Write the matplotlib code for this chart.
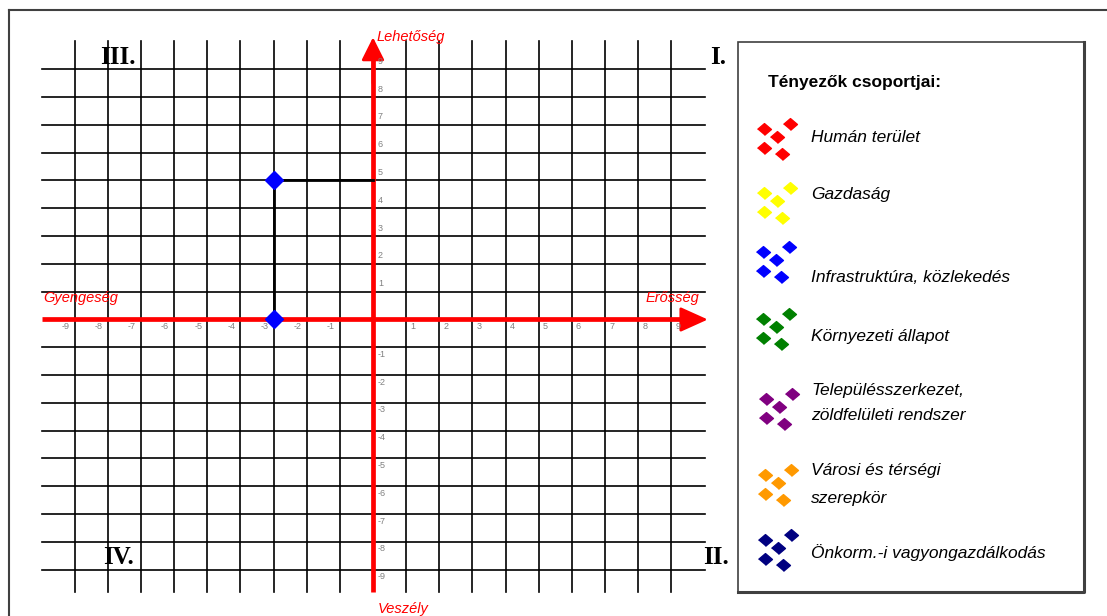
import matplotlib.pyplot as plt
from matplotlib.patches import Rectangle
import numpy as np

# grid extent and the one marked factor position
ticks = [i for i in range(-9, 10) if i != 0]
point_x = [-3, -3]
point_y = [5, 0]
axis_labels = {'top': 'Lehetőség', 'bottom': 'Veszély',
               'left': 'Gyengeség', 'right': 'Erősség'}
quadrants = ['I.', 'II.', 'III.', 'IV.']

legend_title = 'Tényezők csoportjai:'
group_names = ['Humán terület', 'Gazdaság', 'Infrastruktúra, közlekedés',
               'Környezeti állapot', 'Településszerkezet,\nzöldfelületi rendszer',
               'Városi és térségi\nszerepkör', 'Önkorm.-i vagyongazdálkodás']
group_colors = ['#ff0000', '#ffff00', '#0000ff', '#008000',
                '#800080', '#ff9900', '#000080']

W, H = 1107, 616
fig = plt.figure(figsize=(W / 100, H / 100), dpi=100)

# pixel geometry of the grid
x0, sx = 373, 33.15
y0, sy = 319.5, 27.8
lim = 11
left = (x0 - lim * sx) / W
bottom = (H - (y0 + lim * sy)) / H
ax = fig.add_axes([left, bottom, 2 * lim * sx / W, 2 * lim * sy / H])
ax.set_xlim(-lim, lim)
ax.set_ylim(-lim, lim)
ax.axis('off')

# overlay in pixel coords for frame, quadrant numbers and legend
ov = fig.add_axes([0, 0, 1, 1], zorder=-1)
ov.set_xlim(0, W)
ov.set_ylim(H, 0)
ov.axis('off')

sans = 'Liberation Sans'
serif = 'Liberation Serif'

# grid
for t in ticks:
    ax.plot([t, t], [-9.8, 10], color='k', lw=1.2, zorder=1, clip_on=False)
    ax.plot([-10, 10], [t, t], color='k', lw=1.2, zorder=1, clip_on=False)

# red axes with arrows
ax.plot([-10, 9.5], [0, 0], color='red', lw=3.4, zorder=2, solid_capstyle='butt')
ax.plot([0, 0], [-9.8, 9.6], color='red', lw=3.4, zorder=2, solid_capstyle='butt')
ax.annotate('', xy=(10.1, 0), xytext=(8.5, 0),
            arrowprops=dict(arrowstyle='-|>,head_length=1.0,head_width=0.45',
                            mutation_scale=17, color='red', lw=2,
                            shrinkA=0, shrinkB=0), zorder=2)
ax.annotate('', xy=(0, 10.15), xytext=(0, 8.5),
            arrowprops=dict(arrowstyle='-|>,head_length=1.0,head_width=0.5',
                            mutation_scale=14, color='red', lw=2,
                            shrinkA=0, shrinkB=0), zorder=2)

# tick labels
for t in ticks:
    ha = 'right' if t < 0 else 'left'
    dx = -5 if t < 0 else 4
    ax.annotate(str(t), xy=(t, 0), xytext=(dx, -7.5), textcoords='offset pixels',
                ha=ha, va='center', fontsize=6.5, color='#808080', family=sans)
    dy = 8 if t > 0 else -7
    ax.annotate(str(t), xy=(0, t), xytext=(5, dy), textcoords='offset pixels',
                ha='left', va='center', fontsize=6.5, color='#808080', family=sans)

# axis names
lab = dict(color='red', style='italic', fontsize=10.5, family=sans)
ax.annotate(axis_labels['top'], xy=(0, 10.15), xytext=(4, 0),
            textcoords='offset pixels', ha='left', va='center', **lab)
ax.annotate(axis_labels['bottom'], xy=(0, -10), xytext=(5, -11),
            textcoords='offset pixels', ha='left', va='center', **lab)
ax.annotate(axis_labels['left'], xy=(-10, 0), xytext=(2, 21),
            textcoords='offset pixels', ha='left', va='center', **lab)
ax.annotate(axis_labels['right'], xy=(10.1, 0), xytext=(-9, 21),
            textcoords='offset pixels', ha='right', va='center', **lab)

# marked position
ax.plot([point_x[0], 0], [point_y[0], point_y[0]], color='k', lw=2, zorder=3)
ax.plot(point_x, point_y, color='k', lw=2, zorder=3)
ax.plot(point_x, point_y, ls='none', marker='D', ms=9.5, color='#0000ff',
        zorder=4, clip_on=False)

# quadrant numbers
qpos = {'I.': (718, 58), 'II.': (716, 557), 'III.': (118, 58), 'IV.': (119, 557)}
for q in quadrants:
    ov.text(*qpos[q], q, ha='center', va='center', fontsize=18,
            fontweight='bold', family=serif)

# outer frame (only top and left edge visible)
ov.plot([9, W + 5], [10, 10], color='#404040', lw=1.5)
ov.plot([9, 9], [10, H + 5], color='#404040', lw=1.5)

# legend box
ov.add_patch(Rectangle((738, 42), 346, 550, fc='white', ec='#404040', lw=1.2))
ov.plot([1084, 1084, 738], [42, 592, 592], color='#404040', lw=2.2)
ov.text(768, 83, legend_title, ha='left', va='center', fontsize=12.5,
        fontweight='bold', family=sans)

icon_y = [137, 201, 260, 327, 407, 483, 548]
text_y = [[138], [194], [277], [336], [390, 416], [470, 498], [553]]
icon_dx = np.array([-13.4, 13.3, 0, -13.4, 5])
icon_dy = np.array([-8.4, -12.7, 0, 10.6, 16.6])
icon_x = [777, 777, 776, 776, 779, 778, 778]
diamond = [(-1, 0), (0, 0.85), (1, 0), (0, -0.85)]
for i, name in enumerate(group_names):
    ov.plot(icon_x[i] + icon_dx, icon_y[i] + icon_dy, ls='none',
            marker=diamond, ms=10, color=group_colors[i])
    for line, ty in zip(name.split('\n'), text_y[i]):
        ov.text(811, ty, line, ha='left', va='center', fontsize=12.5,
                style='italic', family=sans)

fig.savefig('out.png', dpi=100)
